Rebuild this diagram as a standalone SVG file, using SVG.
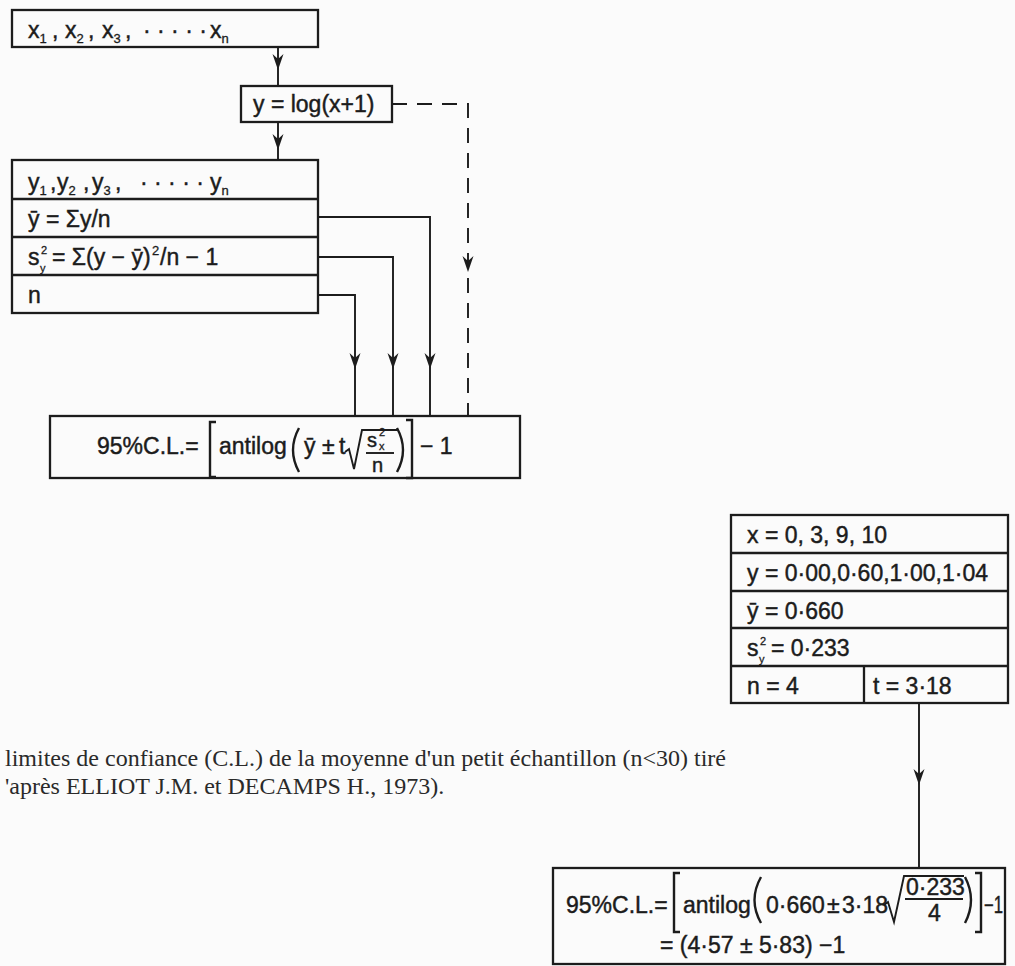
<svg xmlns="http://www.w3.org/2000/svg" xmlns:xlink="http://www.w3.org/1999/xlink" width="1015" height="966" viewBox="0 0 1015 966">
<style>
.box{fill:none;stroke:#1c1c1c;stroke-width:2.3}
.ln{fill:none;stroke:#1c1c1c;stroke-width:1.9}
.dash{stroke-dasharray:15 10}
.t{font-family:"Liberation Sans","DejaVu Sans",sans-serif;font-size:23px;fill:#1c1c1c;stroke:#1c1c1c;stroke-width:0.45}
.s{font-size:13px;stroke-width:0.3}
.xs{font-size:11px;stroke-width:0.3}
.f{font-size:20px}
.br{fill:none;stroke:#1c1c1c;stroke-width:2.4}
.cap{font-family:"Liberation Serif","DejaVu Serif",serif;font-size:24px;fill:#2a2a2a}
</style>
<defs>
<path id="ah" d="M0,0 L-5.5,-16 L0,-11 L5.5,-16 Z" fill="#1c1c1c"/>
</defs>
<rect width="1015" height="966" fill="#fbfbfb"/>

<g id="connectors">
<path class="ln" d="M278,47 V86"/>
<path class="ln" d="M278,122 V160"/>
<path class="ln dash" d="M392,104 H468 V416"/>
<path class="ln" d="M318,217 H430 V416"/>
<path class="ln" d="M318,257 H393 V416"/>
<path class="ln" d="M318,295 H355 V416"/>
<path class="ln" d="M919,703 V868"/>
<use xlink:href="#ah" x="278" y="70"/>
<use xlink:href="#ah" x="278" y="150"/>
<use xlink:href="#ah" x="355" y="369"/>
<use xlink:href="#ah" x="393" y="369"/>
<use xlink:href="#ah" x="430" y="369"/>
<use xlink:href="#ah" x="468" y="272"/>
<use xlink:href="#ah" x="919" y="785"/>
</g>

<g id="n-x">
<rect class="box" x="12" y="10" width="306" height="37"/>
<text class="t" x="28" y="38">x<tspan class="s" dy="5">1</tspan></text>
<text class="t" x="52" y="38">,</text>
<text class="t" x="65" y="38">x<tspan class="s" dy="5">2</tspan></text>
<text class="t" x="88" y="38">,</text>
<text class="t" x="102" y="38">x<tspan class="s" dy="5">3</tspan></text>
<text class="t" x="125" y="38">,</text>
<text class="t" x="143" y="38">· · · · ·</text>
<text class="t" x="210" y="38">x<tspan class="s" dy="5">n</tspan></text>
</g>

<g id="n-log">
<rect class="box" x="241" y="86" width="151" height="36"/>
<text class="t" x="253" y="112">y = log(x+1)</text>
</g>

<g id="n-stats">
<rect class="box" x="12" y="160" width="306" height="153"/>
<path class="box" d="M12,199 H318 M12,237 H318 M12,275 H318"/>
<text class="t" x="28" y="190">y<tspan class="s" dy="5">1</tspan></text>
<text class="t" x="50" y="190">,</text>
<text class="t" x="57" y="190">y<tspan class="s" dy="5">2</tspan></text>
<text class="t" x="83" y="190">,</text>
<text class="t" x="92" y="190">y<tspan class="s" dy="5">3</tspan></text>
<text class="t" x="115" y="190">,</text>
<text class="t" x="140" y="190">· · · · ·</text>
<text class="t" x="210" y="190">y<tspan class="s" dy="5">n</tspan></text>
<text class="t" x="28" y="227">ȳ = Σy/n</text>
<text class="t" x="28" y="265">s</text>
<text class="t xs" x="41" y="254">2</text>
<text class="t xs" x="40" y="272">y</text>
<text class="t" x="52" y="265">= Σ(y − ȳ)</text>
<text class="t s" x="152" y="255">2</text>
<text class="t" x="160" y="265">/n − 1</text>
<text class="t" x="28" y="303">n</text>
</g>

<g id="n-formula">
<rect class="box" x="50" y="416" width="470" height="62"/>
<text class="t" x="97" y="454">95%C.L.=</text>
<path class="br" d="M216,422 H210 V477 H216"/>
<text class="t" x="219" y="454">antilog</text>
<path class="br" d="M299,428 Q287,450 299,472"/>
<text class="t" x="304" y="454">ȳ</text>
<text class="t" x="322" y="454">±</text>
<text class="t" x="339" y="454">t</text>
<path class="ln" d="M345,452 L349,449 L354,469 L362,430 H397"/>
<text class="t f" x="367" y="447">s</text>
<text class="t xs" x="379" y="436">2</text>
<text class="t xs" x="379" y="450">x</text>
<path class="ln" d="M366,453 H394"/>
<text class="t f" x="372" y="472">n</text>
<path class="br" d="M397,428 Q409,450 397,472"/>
<path class="br" d="M406,420 H412 V478 H406"/>
<text class="t" x="420" y="454">− 1</text>
</g>

<g id="n-example">
<rect class="box" x="731" y="515" width="277" height="188"/>
<path class="box" d="M731,553 H1008 M731,591 H1008 M731,628 H1008 M731,666 H1008 M864,666 V703"/>
<text class="t" x="747" y="543">x =  0, 3, 9, 10</text>
<text class="t" x="747" y="581">y = 0·00,0·60,1·00,1·04</text>
<text class="t" x="747" y="619">ȳ = 0·660</text>
<text class="t" x="747" y="656">s</text>
<text class="t xs" x="760" y="645">2</text>
<text class="t xs" x="759" y="663">y</text>
<text class="t" x="771" y="656">= 0·233</text>
<text class="t" x="747" y="694">n = 4</text>
<text class="t" x="873" y="694">t = 3·18</text>
</g>

<g id="n-result">
<rect class="box" x="553" y="868" width="452" height="96"/>
<text class="t" x="566" y="913">95%C.L.=</text>
<path class="br" d="M680,873 H674 V932 H680"/>
<text class="t" x="683" y="913">antilog</text>
<path class="br" d="M761,877 Q748,900 761,923"/>
<text class="t" x="766" y="913">0·660</text>
<text class="t" x="827" y="913">±</text>
<text class="t" x="842" y="913">3·18</text>
<path class="ln" d="M884,905 L888,902 L894,922 L904,876 H964"/>
<text class="t" x="906" y="895">0·233</text>
<path class="ln" d="M905,899 H963"/>
<text class="t" x="928" y="921">4</text>
<path class="br" d="M965,877 Q977,900 965,923"/>
<path class="br" d="M975,873 H981 V932 H975"/>
<text class="t" x="984" y="913" textLength="19" lengthAdjust="spacingAndGlyphs">−1</text>
<text class="t" x="660" y="953">= (4·57 ± 5·83) −1</text>
</g>

<g id="caption">
<text class="cap" x="5" y="766">limites de confiance (C.L.) de la moyenne d'un petit échantillon (n&lt;30) tiré</text>
<text class="cap" x="5" y="794">'après ELLIOT J.M. et DECAMPS H., 1973).</text>
</g>
</svg>
